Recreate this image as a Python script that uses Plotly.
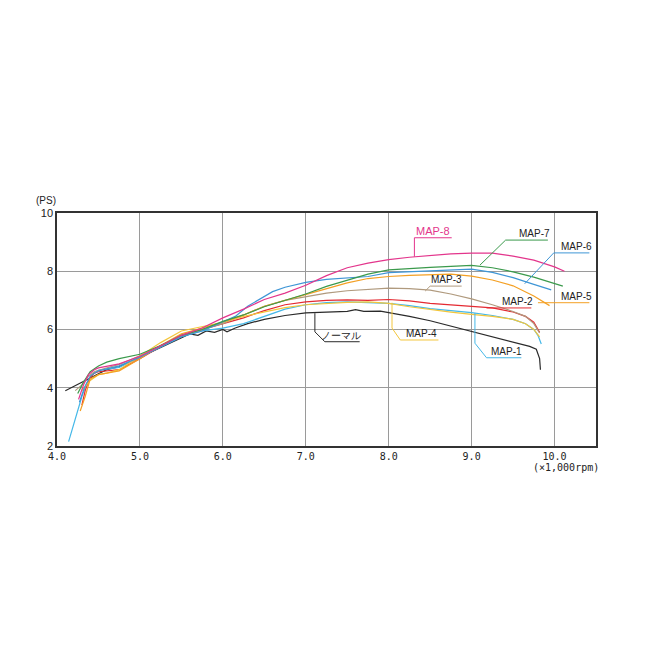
import plotly.graph_objects as go

# ---- data (rpm x1000, PS) ----
normal_x = [4.10, 4.20, 4.30, 4.40, 4.50, 4.60, 4.75, 5.00, 5.25, 5.50, 5.60, 5.70, 5.80, 5.90, 6.00, 6.05, 6.15, 6.30, 6.50, 6.75, 7.00, 7.25, 7.50, 7.60, 7.70, 7.90, 8.00, 8.25, 8.50, 8.75, 9.00, 9.25, 9.50, 9.70, 9.78, 9.82, 9.83]
normal_y = [3.90, 4.05, 4.20, 4.35, 4.48, 4.62, 4.72, 5.05, 5.38, 5.72, 5.85, 5.80, 5.95, 5.90, 6.00, 5.92, 6.05, 6.20, 6.35, 6.48, 6.57, 6.60, 6.62, 6.68, 6.62, 6.63, 6.58, 6.45, 6.30, 6.12, 5.92, 5.75, 5.58, 5.42, 5.32, 5.00, 4.62]

map1_x = [4.14, 4.22, 4.30, 4.36, 4.42, 4.50, 4.75, 5.00, 5.25, 5.50, 5.75, 6.00, 6.25, 6.50, 6.75, 7.00, 7.25, 7.50, 7.75, 8.00, 8.25, 8.50, 8.75, 9.00, 9.25, 9.50, 9.65, 9.75, 9.80, 9.84]
map1_y = [2.15, 2.90, 3.70, 4.15, 4.45, 4.60, 4.70, 5.05, 5.40, 5.75, 5.95, 6.05, 6.20, 6.45, 6.70, 6.85, 6.92, 6.95, 6.92, 6.90, 6.82, 6.72, 6.65, 6.58, 6.48, 6.35, 6.20, 6.00, 5.80, 5.50]

map2_x = [4.30, 4.34, 4.40, 4.45, 4.50, 4.75, 5.00, 5.25, 5.50, 5.75, 6.00, 6.25, 6.50, 6.75, 7.00, 7.25, 7.50, 7.75, 8.00, 8.25, 8.50, 8.75, 9.00, 9.25, 9.50, 9.65, 9.75, 9.82]
map2_y = [3.40, 3.90, 4.35, 4.50, 4.55, 4.62, 5.00, 5.42, 5.80, 6.00, 6.18, 6.40, 6.65, 6.85, 6.95, 7.00, 7.02, 7.00, 7.03, 6.98, 6.90, 6.84, 6.80, 6.74, 6.60, 6.45, 6.25, 5.90]

map3_x = [4.22, 4.30, 4.38, 4.45, 4.50, 4.75, 5.00, 5.25, 5.50, 5.75, 6.00, 6.25, 6.50, 6.75, 7.00, 7.25, 7.50, 7.75, 8.00, 8.25, 8.50, 8.75, 9.00, 9.25, 9.50, 9.65, 9.75, 9.82]
map3_y = [3.90, 4.10, 4.40, 4.55, 4.60, 4.80, 5.10, 5.45, 5.80, 6.00, 6.20, 6.50, 6.80, 7.00, 7.13, 7.25, 7.33, 7.38, 7.42, 7.40, 7.35, 7.22, 7.05, 6.85, 6.62, 6.45, 6.20, 5.88]

map4_x = [4.30, 4.40, 4.50, 4.60, 4.75, 5.00, 5.25, 5.50, 5.75, 6.00, 6.25, 6.50, 6.75, 7.00, 7.25, 7.50, 7.75, 8.00, 8.25, 8.50, 8.75, 9.00, 9.25, 9.50, 9.65, 9.75, 9.82]
map4_y = [3.90, 4.25, 4.45, 4.50, 4.62, 5.10, 5.55, 5.95, 6.10, 6.25, 6.45, 6.60, 6.75, 6.85, 6.90, 6.93, 6.95, 6.90, 6.78, 6.68, 6.60, 6.52, 6.45, 6.35, 6.20, 6.00, 5.75]

map5_x = [4.28, 4.34, 4.40, 4.50, 4.60, 4.75, 5.00, 5.25, 5.50, 5.75, 6.00, 6.25, 6.50, 6.75, 7.00, 7.25, 7.50, 7.75, 8.00, 8.25, 8.50, 8.75, 9.00, 9.25, 9.50, 9.75, 9.94]
map5_y = [3.20, 3.70, 4.30, 4.45, 4.50, 4.58, 5.00, 5.45, 5.85, 6.05, 6.25, 6.50, 6.80, 7.00, 7.20, 7.42, 7.60, 7.75, 7.82, 7.86, 7.88, 7.90, 7.83, 7.70, 7.50, 7.15, 6.82]

map6_x = [4.27, 4.33, 4.40, 4.50, 4.75, 5.00, 5.25, 5.50, 5.75, 6.00, 6.15, 6.30, 6.45, 6.60, 6.75, 7.00, 7.25, 7.50, 7.75, 8.00, 8.25, 8.50, 8.75, 9.00, 9.25, 9.50, 9.75, 9.96]
map6_y = [3.50, 4.00, 4.40, 4.58, 4.75, 5.05, 5.40, 5.75, 5.95, 6.25, 6.45, 6.80, 7.05, 7.30, 7.45, 7.62, 7.72, 7.76, 7.82, 7.95, 7.98, 8.00, 8.04, 8.07, 7.96, 7.78, 7.55, 7.36]

map7_x = [4.25, 4.32, 4.40, 4.50, 4.60, 4.75, 5.00, 5.25, 5.50, 5.75, 6.00, 6.25, 6.50, 6.75, 7.00, 7.25, 7.50, 7.75, 8.00, 8.25, 8.50, 8.75, 9.00, 9.25, 9.50, 9.75, 10.00, 10.10]
map7_y = [3.80, 4.20, 4.55, 4.75, 4.88, 5.00, 5.15, 5.45, 5.80, 6.00, 6.28, 6.50, 6.78, 7.00, 7.22, 7.48, 7.70, 7.90, 8.05, 8.10, 8.13, 8.17, 8.20, 8.12, 7.98, 7.80, 7.58, 7.49]

map8_x = [4.26, 4.32, 4.38, 4.45, 4.50, 4.75, 5.00, 5.25, 5.50, 5.75, 6.00, 6.25, 6.50, 6.75, 7.00, 7.25, 7.50, 7.75, 8.00, 8.25, 8.50, 8.75, 9.00, 9.25, 9.50, 9.75, 10.00, 10.12]
map8_y = [3.60, 4.10, 4.45, 4.62, 4.68, 4.82, 5.08, 5.45, 5.80, 6.05, 6.40, 6.70, 7.03, 7.25, 7.52, 7.85, 8.12, 8.28, 8.40, 8.48, 8.55, 8.60, 8.62, 8.62, 8.52, 8.38, 8.15, 8.00]

series_names = ["ノーマル", "MAP-1", "MAP-2", "MAP-3", "MAP-4", "MAP-5", "MAP-6", "MAP-7", "MAP-8"]
series_x = [normal_x, map1_x, map2_x, map3_x, map4_x, map5_x, map6_x, map7_x, map8_x]
series_y = [normal_y, map1_y, map2_y, map3_y, map4_y, map5_y, map6_y, map7_y, map8_y]
colors = ["#2a2a2a", "#45b8e8", "#e42a32", "#b09a7e", "#f3c63c", "#f4a024", "#3f96d6", "#3b9a4c", "#e3358c"]

x_ticks = [4, 5, 6, 7, 8, 9, 10]
x_ticktext = ["4.0", "5.0", "6.0", "7.0", "8.0", "9.0", "10.0"]
y_ticks = [2, 4, 6, 8, 10]

# label centre x (data) and leader paths (data coords); text sits on the last leader segment
label_x = {
    "ノーマル": 7.43,
    "MAP-1": 9.42,
    "MAP-2": 9.55,
    "MAP-3": 8.70,
    "MAP-4": 8.40,
    "MAP-5": 10.27,
    "MAP-6": 10.26,
    "MAP-7": 9.76,
    "MAP-8": 8.53,
}
leaders = {
    "ノーマル": [(7.11, 6.56), (7.11, 5.92), (7.23, 5.58), (7.65, 5.58)],
    "MAP-1": [(9.04, 6.56), (9.04, 5.53), (9.18, 5.03), (9.60, 5.03)],
    "MAP-2": [(9.18, 6.74), (9.72, 6.74)],
    "MAP-3": [(8.44, 7.32), (8.50, 7.49), (8.88, 7.49)],
    "MAP-4": [(8.04, 6.92), (8.04, 6.05), (8.14, 5.64), (8.60, 5.64)],
    "MAP-5": [(9.80, 6.92), (10.42, 6.92)],
    "MAP-6": [(9.64, 7.57), (9.99, 8.63), (10.42, 8.63)],
    "MAP-7": [(9.10, 8.21), (9.41, 9.07), (9.92, 9.07)],
    "MAP-8": [(8.31, 8.50), (8.31, 9.15), (8.76, 9.15)],
}

fig = go.Figure()
for name, xs, ys, c in zip(series_names, series_x, series_y, colors):
    fig.add_trace(go.Scatter(x=xs, y=ys, mode="lines", name=name,
                             line=dict(color=c, width=1.2), showlegend=False))

shapes = []
annotations = []
for name, c in zip(series_names, colors):
    pts = leaders[name]
    path = "M " + " L ".join(f"{px},{py}" for px, py in pts)
    shapes.append(dict(type="path", path=path, xref="x", yref="y",
                       line=dict(color=c, width=1)))
    is8 = name == "MAP-8"
    annotations.append(dict(x=label_x[name], y=pts[-1][1], xref="x", yref="y", text=name,
                            showarrow=False, xanchor="center", yanchor="bottom", yshift=-1,
                            font=dict(family="Liberation Sans, Arial, sans-serif",
                                      size=11 if is8 else 10,
                                      color=c if is8 else "#222222")))

annotations.append(dict(x=-0.02, y=1, xref="paper", yref="paper", text="(PS)",
                        xanchor="center", yanchor="middle", yshift=13, showarrow=False,
                        font=dict(family="Liberation Sans Narrow, Liberation Sans, sans-serif", size=10, color="#222")))
annotations.append(dict(x=0.945, y=0, xref="paper", yref="paper", text="(×1,000rpm)",
                        xanchor="center", yanchor="middle", yshift=-21, showarrow=False,
                        font=dict(family="DejaVu Sans Mono, monospace", size=10, color="#222")))

fig.update_layout(
    width=642, height=642,
    margin=dict(l=49, r=54, t=205, b=204),
    paper_bgcolor="white", plot_bgcolor="white",
    shapes=shapes, annotations=annotations,
    xaxis=dict(range=[4, 10.5], tickvals=x_ticks, ticktext=x_ticktext,
               showgrid=True, gridcolor="#9a9a9a", gridwidth=1,
               showline=True, linecolor="#333", linewidth=1.5, mirror=True,
               zeroline=False, ticks="",
               tickfont=dict(family="DejaVu Sans Mono, monospace", size=10, color="#222")),
    yaxis=dict(range=[2, 10], tickvals=y_ticks,
               showgrid=True, gridcolor="#9a9a9a", gridwidth=1,
               showline=True, linecolor="#333", linewidth=1.5, mirror=True,
               zeroline=False, ticks="",
               tickfont=dict(family="Liberation Sans Narrow, Liberation Sans, sans-serif", size=11, color="#222")),
)

fig.write_html("out.html")
